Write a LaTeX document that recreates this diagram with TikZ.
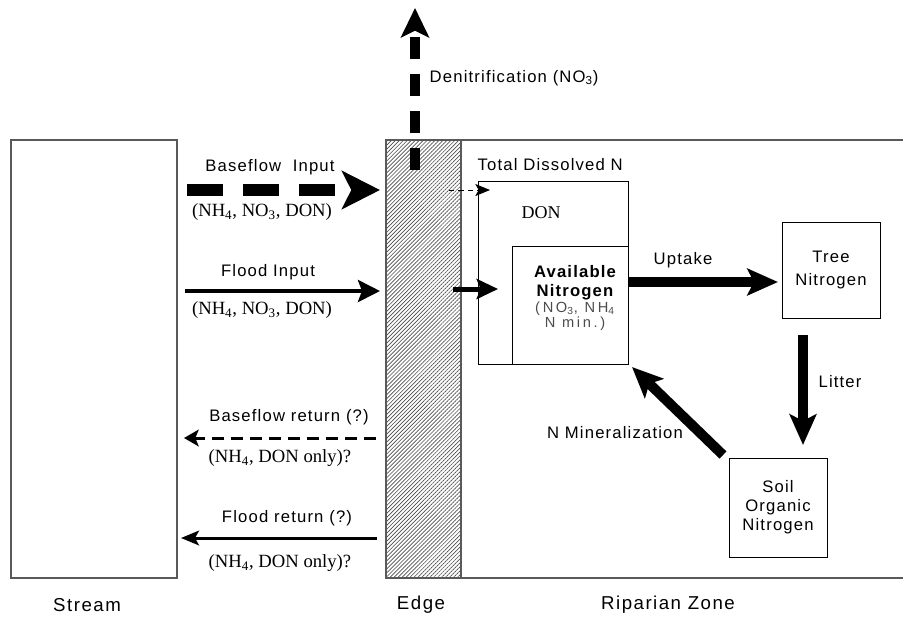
\documentclass[tikz,border=0pt]{standalone}
\usepackage{fontspec}
\setmainfont{Liberation Sans}[LetterSpace=7]
\newfontfamily\tnr{Liberation Serif}
\newfontfamily\widesans{Liberation Sans}[LetterSpace=18]
\usetikzlibrary{arrows.meta,patterns.meta}

\begin{document}
\begin{tikzpicture}[x=.75pt,y=-.75pt,line join=miter,font=\fontsize{12.5}{14}\selectfont,
		frame/.style={draw=black!65,line width=.9pt},
		box/.style={draw,line width=.75pt,inner sep=0pt},
		chem/.style={font=\tnr\fontsize{14}{16}\selectfont},
		zone/.style={font=\fontsize{14}{16}\selectfont\addfontfeatures{LetterSpace=8}},
		flow/.style={line width=7.5pt,-{Stealth[length=23pt,width=20pt,inset=5pt]}}]
	\useasboundingbox (0,0) rectangle (903,619);
	% stream, edge and riparian zone
	\coordinate (S1) at (11,140);
	\coordinate (S2) at (177,578);
	\coordinate (E1) at (386,140);
	\coordinate (E2) at (461,578);
	\draw[frame] (S1) rectangle (S2);
	\fill[pattern={Lines[angle=45,distance=2.1pt,line width=.5pt]},pattern color=black!70] (E1) rectangle (E2);
	\draw[frame] (903,140)--(E1)--(E1|-E2)--(903,578) (E2)--(E2|-E1);
	% pools
	\draw[box] (478,181) rectangle (628,364);
	\node[box,minimum width=87pt,minimum height=88.5pt] (avail) at (570,305) {};
	\node[box,minimum width=73.5pt,minimum height=72pt] (tree) at (831,270) {};
	\node[box,minimum width=73.5pt,minimum height=74.25pt] (soil) at (778,507.5) {};
	\node[anchor=west] (tdn) at (473,165) {Total Dissolved N};
	\node[chem,font=\tnr\fontsize{13.5}{15}\selectfont] (don) at (541,213) {DON};
	\node[align=center,font=\bfseries\fontsize{12.5}{14.5}\selectfont] (availtxt) at (575,283) {Available\\Nitrogen};
	\node[align=center,text=black!70,font=\widesans\fontsize{11}{10}\selectfont] (availsub) at (575,316) {(NO\textsubscript{3}, NH\textsubscript{4}\\N min.)};
	\node[align=center,font=\fontsize{12.5}{17}\selectfont] at (tree) {Tree\\Nitrogen};
	\node[align=center,font=\fontsize{12.5}{14.3}\selectfont] at (soil) {Soil\\Organic\\Nitrogen};
	% fluxes
	\coordinate (bi1) at (187,190);
	\coordinate (bi2) at (380,190);
	\coordinate (fi1) at (185,291);
	\coordinate (fi2) at (380,291);
	\coordinate (dn1) at (415,170);
	\coordinate (dn2) at (415,8);
	\coordinate (bd1) at (449,190);
	\coordinate (bd2) at (490,190);
	\coordinate (fd1) at (453,289);
	\coordinate (fd2) at (498,289);
	\coordinate (up1) at (628,282);
	\coordinate (up2) at (778,282);
	\coordinate (li1) at (803,335);
	\coordinate (li2) at (803,445);
	\coordinate (mi1) at (723,455);
	\coordinate (mi2) at (632,367);
	\coordinate (br1) at (376,438);
	\coordinate (br2) at (184,438);
	\coordinate (fr1) at (377,538);
	\coordinate (fr2) at (181,538);
	\draw[line width=9pt,dash pattern=on 27pt off 15pt,-{Stealth[length=28.5pt,width=28.5pt,inset=7pt]}] (bi1)--(bi2);
	\draw[line width=3pt,-{Stealth[length=16.5pt,width=16.5pt,inset=3pt]}] (fi1)--(fi2);
	\draw[line width=7.5pt,dash pattern=on 16.5pt off 11.25pt,-{Stealth[length=22pt,width=21pt,inset=5pt]}] (dn1)--(dn2);
	\draw[line width=.75pt,dash pattern=on 4pt off 3pt,-{Stealth[length=11pt,width=9pt,inset=2.5pt]}] (bd1)--(bd2);
	\draw[line width=3.75pt,-{Stealth[length=16pt,width=15pt,inset=3pt]}] (fd1)--(fd2);
	\draw[flow] (up1)--(up2);
	\draw[flow] (li1)--(li2);
	\draw[flow] (mi1)--(mi2);
	\draw[line width=2.25pt,dash pattern=on 9pt off 5.25pt,-{Stealth[length=11pt,width=12.5pt,inset=2.5pt]}] (br1)--(br2);
	\draw[line width=2.25pt,-{Stealth[length=13.5pt,width=11pt,inset=3pt]}] (fr1)--(fr2);
	% labels
	\node (bilab) at (270,167) {Baseflow\ \ Input};
	\node[chem] (bichem) at (262,212) {(NH\textsubscript{4}, NO\textsubscript{3}, DON)};
	\node (filab) at (268,272) {Flood Input};
	\node[chem] (fichem) at (262,310) {(NH\textsubscript{4}, NO\textsubscript{3}, DON)};
	\node[anchor=west] (dnlab) at (425,78) {Denitrification (NO\textsubscript{3})};
	\node (uplab) at (683,260) {Uptake};
	\node (lilab) at (840,382) {Litter};
	\node (milab) at (615,433) {N Mineralization};
	\node (brlab) at (289,417) {Baseflow return (?)};
	\node[chem] (brchem) at (280,458) {(NH\textsubscript{4}, DON only)?};
	\node (frlab) at (287,518) {Flood return (?)};
	\node[chem] (frchem) at (280,563) {(NH\textsubscript{4}, DON only)?};
	\node[zone] (stream) at (87,605) {Stream};
	\node[zone] (edge) at (421,605) {Edge};
	\node[zone] (rip) at (668,605) {Riparian Zone};
\end{tikzpicture}
\end{document}
